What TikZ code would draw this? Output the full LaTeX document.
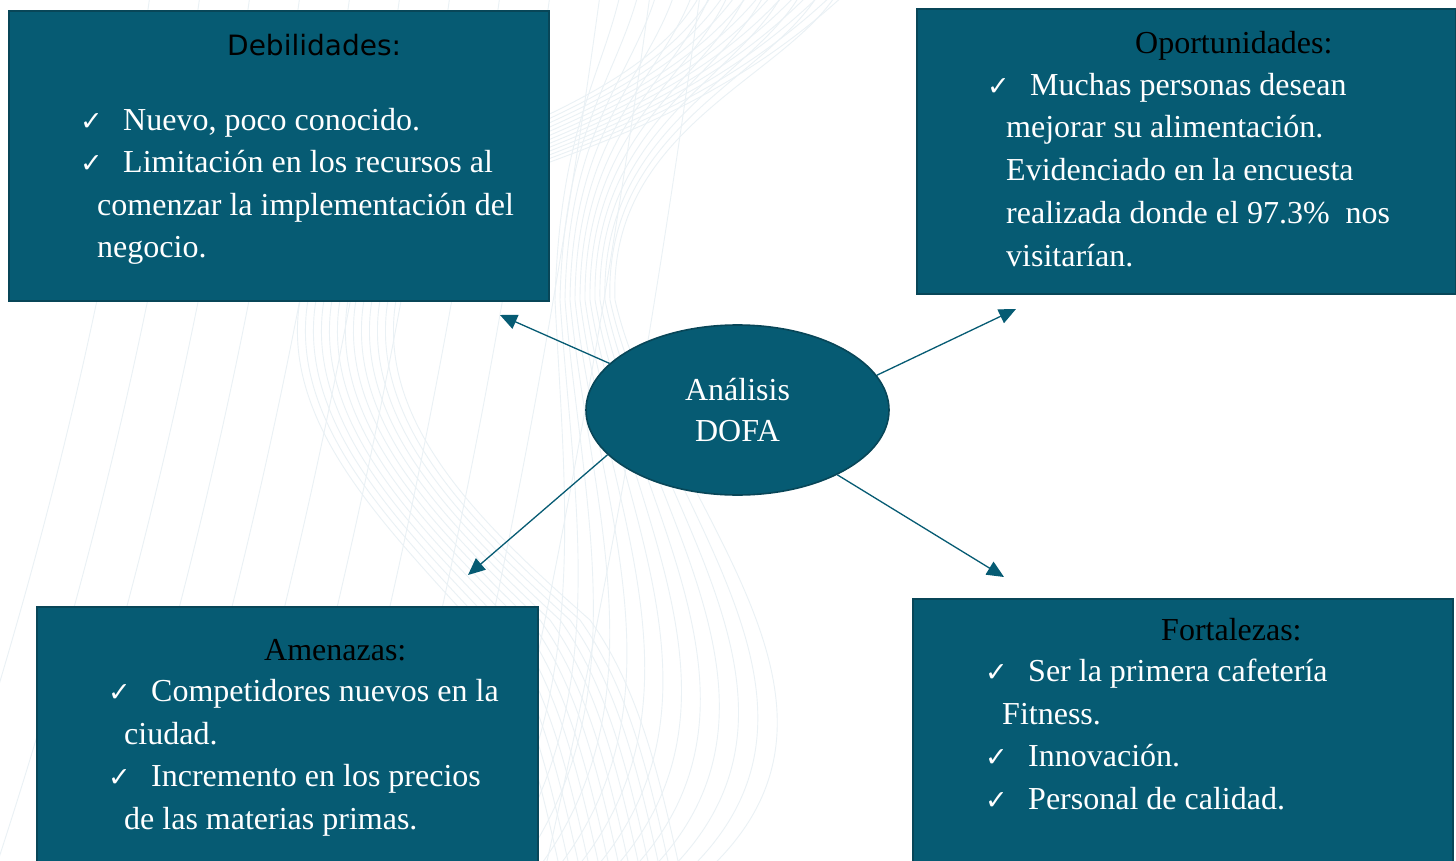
\documentclass[tikz,border=0pt]{standalone}
\usepackage{fontspec}
\setmainfont{Liberation Serif}
\newfontfamily\djv{DejaVu Sans}
\newfontfamily\djvb{DejaVu Sans Bold}
\usetikzlibrary{arrows.meta,shapes.geometric}
\definecolor{tealfill}{RGB}{6,91,115}
\definecolor{tealedge}{RGB}{8,70,88}
\definecolor{bgline}{RGB}{234,241,245}
\newcommand{\chk}{\makebox[43pt][l]{\djvb\fontsize{27}{27}\selectfont ✓}}
\begin{document}
\begin{tikzpicture}[x=1pt,y=-1pt,
 box/.style={draw=tealedge, fill=tealfill, line width=1.6pt, anchor=north west, inner sep=0pt},
 item/.style={anchor=base west, inner sep=0pt, text=white, font=\fontsize{32}{38}\selectfont},
 ttl/.style={anchor=base west, inner sep=0pt, text=black, font=\fontsize{32}{38}\selectfont},
 conn/.style={draw=tealfill, line width=1.3pt, -{Triangle[length=17pt,width=15pt]}},
 bg/.style={draw=bgline, line width=0.9pt}]
\useasboundingbox (0,0) rectangle (1456,861);
\fill[white] (0,0) rectangle (1456,861);
% background watermark lines
\foreach \i in {0,...,11}{
  \draw[bg] ({150+50*\i},-5) .. controls ({110+50*\i},287) and ({40+52*\i},574) .. ({-60+55*\i},870);
}
\foreach \i in {0,...,12}{
  \draw[bg] ({620+18*\i},-5) .. controls ({600+15*\i},80) and ({560+4*\i},130) .. ({555+5*\i},300)
    .. controls ({565+8*\i},500) and ({590+25*\i},700) .. ({480+19*\i},870);
}
\foreach \i in {0,...,12}{
  \draw[bg] ({700+12*\i},-5) .. controls (620,{140+5*\i}) and ({330+5*\i},150) .. ({300+8*\i},300)
    .. controls ({280+8*\i},420) and ({380+8*\i},520) .. ({470+10*\i},620)
    .. controls ({520+10*\i},690) and ({540+10*\i},780) .. ({560+10*\i},870);
}
% boxes
\node[box, minimum width=540pt, minimum height=290pt] (D) at (8,10) {};
\node[box, minimum width=539pt, minimum height=285pt] (O) at (916,8) {};
\node[box, minimum width=501pt, minimum height=270pt] (A) at (36,606) {};
\node[box, minimum width=540pt, minimum height=280pt] (F) at (912,598) {};
% centre
\node[ellipse, draw=tealedge, fill=tealfill, line width=1.6pt, minimum width=303pt, minimum height=170pt, inner sep=0pt,
  text=white, align=center, font=\fontsize{32}{41}\selectfont] (E) at (737.5,410) {Análisis\\DOFA};
% arrow ends
\coordinate (Dt) at (500,315);
\coordinate (Ot) at (1016,309);
\coordinate (At) at (468,575);
\coordinate (Ft) at (1004,577);
\draw[conn] (E.160.6) -- (Dt);
\draw[conn] (E.14.4) -- (Ot);
\draw[conn] (E.199.7) -- (At);
\draw[conn] (E.327.8) -- (Ft);
% Debilidades
\node[anchor=base west, inner sep=0pt, text=black, font=\djv\fontsize{28}{34}\selectfont] (Dh) at (227,56) {Debilidades:};
\node[item] (D1) at (80,131) {\chk Nuevo, poco conocido.};
\node[item] (D2) at (80,173) {\chk Limitación en los recursos al};
\node[item] (D3) at (97,215) {comenzar la implementación del};
\node[item] (D4) at (97,257) {negocio.};
% Oportunidades
\node[ttl] (Oh) at (1135,54) {Oportunidades:};
\node[item] (O1) at (987,96) {\chk Muchas personas desean};
\node[item] (O2) at (1006,138) {mejorar su alimentación.};
\node[item] (O3) at (1006,181) {Evidenciado en la encuesta};
\node[item] (O4) at (1006,223) {realizada donde el 97.3\%\ \ nos};
\node[item] (O5) at (1006,266) {visitarían.};
% Amenazas
\node[ttl] (Ah) at (264,660) {Amenazas:};
\node[item] (A1) at (108,701) {\chk Competidores nuevos en la};
\node[item] (A2) at (124,744) {ciudad.};
\node[item] (A3) at (108,786) {\chk Incremento en los precios};
\node[item] (A4) at (124,829) {de las materias primas.};
% Fortalezas
\node[ttl] (Fh) at (1161,640) {Fortalezas:};
\node[item] (F1) at (985,681) {\chk Ser la primera cafetería};
\node[item] (F2) at (1002,724) {Fitness.};
\node[item] (F3) at (985,766) {\chk Innovación.};
\node[item] (F4) at (985,809) {\chk Personal de calidad.};
\end{tikzpicture}
\end{document}
